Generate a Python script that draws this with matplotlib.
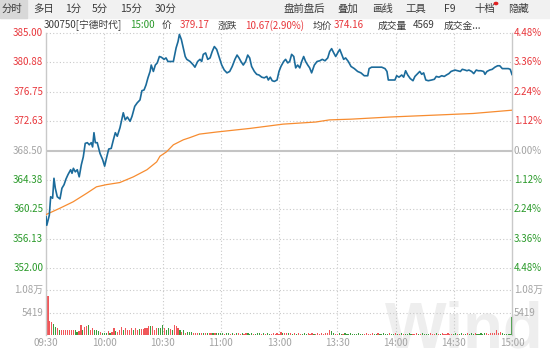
import numpy as np
import matplotlib
matplotlib.use("Agg")
import matplotlib.pyplot as plt
from matplotlib.patches import Rectangle

plt.rcParams["font.family"] = ["Noto Sans CJK SC", "DejaVu Sans"]

PREV_CLOSE = 368.50
P_LO, P_HI = 352.00, 385.00
VOL_STEP = 5419

price_labels = ["385.00", "380.88", "376.75", "372.63", "368.50", "364.38",
                "360.25", "356.13"]
pct_labels = ["4.48%", "3.36%", "2.24%", "1.12%", "0.00%", "1.12%", "2.24%",
              "3.36%"]

# minute index from 09:30 (0..240, 120 = 11:30/13:00)
price_t = [0, 0.4, 1.7, 2.4, 3.4, 4.1, 4.8, 5.8, 7.2, 8.2, 9.3, 10.3, 11.3, 12.7,
           13.4, 14.1, 15.1, 16.1, 17.1, 18.2, 19.2, 20.2, 21.3, 22.3, 23.3, 24.0,
           24.7, 25.4, 26.4, 27.8, 29.2, 30.2, 31.3, 32.3, 33.6, 34.7, 35.7, 36.7,
           38.1, 39.8, 40.8, 41.9, 43.3, 44.3, 45.7, 47.0, 48.4, 49.4, 50.5, 51.5,
           52.5, 53.6, 54.2, 55.3, 56.3, 57.3, 58.4, 59.4, 60.8, 61.8, 62.8, 64.2,
           65.6, 67.0, 68.0, 68.7, 69.7, 70.7, 71.7, 72.5, 74.2, 75.9, 76.7, 78.1,
           79.3, 80.2, 81.0, 82.2, 83.3, 84.5, 85.6, 86.7, 87.9, 89.1, 90.5, 91.8,
           93.2, 94.6, 95.9, 97.3, 98.4, 99.4, 100.4, 101.6, 102.8, 103.9, 104.9,
           105.9, 107.3, 108.5, 109.7, 111.1, 112.4, 113.7, 114.5, 115.5, 116.5,
           117.6, 119.0, 120.0, 121.0, 122.4, 123.4, 124.5, 125.5, 126.5, 127.6,
           128.6, 129.6, 130.7, 131.7, 132.7, 133.7, 134.8, 135.8, 136.8, 138.2,
           139.6, 141.0, 142.3, 143.7, 145.1, 146.1, 147.1, 148.2, 149.2, 150.2,
           151.3, 152.3, 153.3, 154.3, 155.7, 157.1, 158.8, 160.5, 162.2, 163.9,
           165.7, 166.4, 167.7, 170.3, 172.9, 174.6, 175.6, 176.3, 178.0, 179.7,
           180.6, 181.8, 183.2, 184.2, 185.2, 186.3, 187.6, 189.0, 190.0, 191.4,
           192.5, 193.5, 194.5, 195.6, 196.9, 198.6, 200.0, 201.0, 202.4, 203.8,
           205.1, 206.2, 207.5, 208.6, 209.6, 210.6, 212.0, 213.4, 214.4, 215.8,
           216.8, 217.8, 219.2, 220.3, 221.6, 222.6, 224.0, 225.4, 226.1, 227.1,
           228.5, 229.8, 231.2, 232.6, 233.7, 235.0, 236.5, 238.1, 239.1, 240.0]
price_v = [359.2, 358.0, 359.4, 362.0, 361.8, 364.6, 363.2, 362.0, 361.7, 363.2,
           363.7, 364.5, 365.1, 365.8, 365.3, 366.0, 365.5, 365.8, 364.8, 366.5,
           367.6, 369.5, 369.6, 369.3, 369.6, 369.0, 371.0, 369.6, 369.6, 368.1,
           367.2, 366.3, 367.6, 368.7, 368.8, 370.0, 371.0, 370.5, 371.7, 373.8,
           372.8, 373.2, 372.6, 373.3, 374.7, 375.2, 375.6, 376.9, 377.0, 377.7,
           378.7, 379.6, 380.5, 379.6, 380.5, 380.8, 381.7, 381.6, 381.3, 381.5,
           381.0, 381.0, 381.0, 382.9, 383.8, 384.8, 384.1, 382.9, 381.7, 381.3,
           381.0, 380.5, 380.2, 381.0, 381.3, 381.0, 382.0, 382.2, 381.3, 381.5,
           382.4, 383.1, 382.7, 381.7, 380.5, 379.8, 379.4, 379.6, 380.3, 381.3,
           381.9, 381.5, 381.0, 380.5, 381.0, 381.9, 381.5, 380.3, 379.6, 379.2,
           379.1, 378.8, 378.7, 378.9, 378.4, 378.8, 378.3, 378.2, 378.4, 379.6,
           380.3, 381.0, 381.3, 380.8, 381.0, 382.0, 381.7, 380.1, 380.5, 380.1,
           381.0, 381.7, 381.0, 380.5, 380.1, 379.4, 380.5, 381.0, 381.1, 381.3,
           381.1, 381.5, 382.4, 382.8, 382.2, 381.7, 382.2, 382.7, 382.0, 381.3,
           381.5, 381.0, 380.3, 380.0, 379.6, 379.4, 379.0, 379.0, 380.0, 380.2,
           380.2, 380.2, 380.0, 379.6, 378.4, 378.4, 378.4, 379.0, 378.8, 379.1,
           378.8, 379.7, 379.1, 378.6, 378.3, 378.9, 379.3, 379.6, 379.2, 379.4,
           378.4, 378.3, 378.4, 378.5, 378.9, 378.8, 379.0, 378.9, 379.1, 379.3,
           379.6, 379.7, 379.8, 379.7, 379.6, 379.9, 379.8, 379.7, 379.8, 379.6,
           379.3, 379.8, 379.7, 379.7, 379.6, 379.2, 379.6, 379.8, 379.9, 380.2,
           380.4, 380.4, 380.0, 380.0, 380.0, 379.9, 379.17]

avg_t = [0, 7.2, 14, 21, 26, 31, 38, 45, 52, 57, 58.7, 62, 65.6, 70.7, 74, 79,
         88, 105, 122, 139, 146, 157, 177, 203, 220, 240]
avg_v = [359.5, 360.4, 361.3, 362.5, 363.4, 363.7, 364.0, 364.8, 365.8, 366.9,
         367.7, 368.3, 369.3, 370.0, 370.3, 370.8, 371.1, 371.6, 372.2, 372.5,
         372.8, 372.9, 373.2, 373.5, 373.7, 374.16]

volume = [16200, 9400, 3500, 3100, 2700, 1900, 1600, 1300, 1300, 1200,
          1300, 1300, 1200, 1300, 1300, 1300, 800, 1000, 2400, 1300,
          2000, 2100, 2500, 1100, 1700, 1100, 1100, 900, 800, 600,
          600, 500, 1000, 600, 800, 1700, 1000, 800, 1300, 2000,
          1300, 1600, 1200, 1100, 1600, 1100, 1600, 1300, 1450, 1450,
          1500, 1800, 1600, 2200, 2200, 2200, 1300, 1600, 1600, 1800,
          2450, 1600, 1300, 1800, 1450, 1300, 2350, 2100, 1700, 1100,
          800, 1100, 600, 800, 700, 700, 600, 500, 600, 500,
          600, 500, 400, 600, 500, 400, 500, 600, 500, 400,
          500, 400, 300, 400, 500, 300, 400, 300, 500, 400,
          300, 400, 300, 400, 500, 300, 400, 300, 300, 400,
          500, 300, 400, 300, 400, 300, 300, 400, 300, 400,
          300, 700, 600, 500, 400, 400, 500, 300, 400, 300,
          400, 300, 300, 400, 300, 400, 300, 500, 300, 300,
          400, 300, 400, 300, 500, 600, 1300, 1000, 400, 300,
          300, 400, 300, 300, 400, 300, 300, 400, 300, 300,
          300, 400, 300, 300, 300, 400, 300, 300, 400, 300,
          300, 400, 300, 300, 400, 300, 300, 400, 300, 300,
          400, 300, 300, 400, 300, 300, 300, 400, 300, 300,
          300, 400, 300, 300, 400, 300, 300, 300, 400, 300,
          300, 400, 300, 300, 400, 300, 300, 400, 300, 300,
          300, 400, 300, 300, 400, 300, 300, 400, 300, 400,
          300, 400, 300, 300, 400, 300, 500, 400, 300, 600,
          400, 500, 1300, 600, 800, 400, 300, 300, 200, 200,
          4270]
# R = up minute, G = down minute
vol_dir = ("GRRRGGRGRR" "RRRRRGGRRG" "RRGRRGGGRG" "GGRGRRGRRR" "GRRRRGRRGR"
           "RRRRGRRRGG" "GRGGRGRRRG" "RGRGGGRRRG" "RGRGRRGRGG" "GGRGGRGRGR"
           "RGRRGGGRGG" "GRGRGGRRRR" "RRGRRGRGRG" "RRGGGRRRGR" "RRRRRRRGGR"
           "RGGRGGGGGG" "GGGGRRRRRG" "GRGGGGGRGG" "RGRGRGGGGR" "RRGRGGGGRR"
           "RGRGRRRRRR" "GGRGGRGRGG" "GRGGGGGRRR" "RRRRRGGGGG" "G")

time_ticks = [0, 30, 60, 90, 120, 150, 180, 210, 240]
time_labels = ["09:30", "10:00", "10:30", "11:00", "13:00", "13:30", "14:00",
               "14:30", "15:00"]

RED = "#e8363b"
GREEN = "#2a9a2a"
GRAY = "#a3a3a3"
DARK = "#3a3a3a"
BLUE = "#1b6b9b"
ORANGE = "#f78c30"
GRID = "#c9c9c9"

W, H = 550, 352
fig = plt.figure(figsize=(W / 100, H / 100), dpi=100, facecolor="white")


def fx(px):
    return px / W


def fy(py):
    return 1 - py / H


# toolbar
fig.patches.append(Rectangle((0, fy(18)), 1, 18 / H, transform=fig.transFigure,
                             color="#f1f1f1", zorder=-2))
fig.patches.append(Rectangle((0, fy(18)), fx(27), 18 / H, transform=fig.transFigure,
                             color="#d8d8d8", zorder=-2))
tabs = [("分时", 2), ("多日", 33), ("1分", 65), ("5分", 92), ("15分", 120),
        ("30分", 155), ("盘前盘后", 283), ("叠加", 337), ("画线", 372),
        ("工具", 405), ("F9", 444), ("十档", 474), ("隐藏", 508)]
for s, x in tabs:
    fig.text(fx(x), fy(9), s, fontsize=7.5, color=DARK, va="center", ha="left")
fig.patches.append(plt.Circle((fx(496), fy(3.5)), 1.7 / W, transform=fig.transFigure,
                              color="#e02020"))

# quote line
quote = [("300750[宁德时代]", 44, DARK), ("15:00", 130, GREEN), ("价", 162, DARK),
         ("379.17", 180, RED), ("涨跌", 218, DARK), ("10.67(2.90%)", 245, RED),
         ("均价", 313, DARK), ("374.16", 334, RED), ("成交量", 378, DARK),
         ("4569", 413, DARK), ("成交金...", 444, DARK)]
for s, x, c in quote:
    fig.text(fx(x), fy(25.5), s, fontsize=7, color=c, va="center", ha="left")

L, R = 46, 512
axp = fig.add_axes([fx(L), fy(268), (R - L) / W, (268 - 33) / H])
axv = fig.add_axes([fx(L), fy(335), (R - L) / W, (335 - 268) / H])
for ax in (axp, axv):
    ax.set_facecolor("none")
    ax.set_xlim(0, 240)
    ax.set_xticks([])
    ax.set_yticks([])
    for sp in ("top", "bottom"):
        ax.spines[sp].set_visible(False)
    for sp in ("left", "right"):
        ax.spines[sp].set_color(GRID)
        ax.spines[sp].set_linewidth(1.0)
    for t in time_ticks[1:-1]:
        ax.axvline(t, color=GRID, lw=0.8, ls=(0, (1, 2)), zorder=0)

# price panel
step = (P_HI - P_LO) / 8
levels = [P_HI - i * step for i in range(8)]
axp.set_ylim(P_LO, P_HI)
for i, lv in enumerate(levels):
    if i == 4:
        axp.axhline(lv, color="#c4c4c4", lw=1.5, zorder=1)
    else:
        axp.axhline(lv, color=GRID, lw=0.8, ls=(0, (1, 2)), zorder=0, clip_on=False)
    c = RED if i < 4 else (GRAY if i == 4 else GREEN)
    axp.text(-0.006, lv, price_labels[i], transform=axp.get_yaxis_transform(),
             ha="right", va="center", fontsize=7, color=c)
    axp.text(1.004, lv, pct_labels[i], transform=axp.get_yaxis_transform(),
             ha="left", va="center", fontsize=7, color=c)

axp.plot(avg_t, avg_v, color=ORANGE, lw=0.9, zorder=3)
axp.plot(price_t, price_v, color=BLUE, lw=1.2, zorder=4)

# volume panel
vmax = 3 * VOL_STEP
axv.set_ylim(0, vmax)
axv.axhline(vmax, color=GRID, lw=0.8, ls=(0, (1, 2)), zorder=0)
for k, lab in [(2, "1.08万"), (1, f"{VOL_STEP}")]:
    axv.axhline(k * VOL_STEP, color=GRID, lw=0.8, ls=(0, (1, 2)), zorder=0)
    axv.text(-0.006, k * VOL_STEP, lab, transform=axv.get_yaxis_transform(),
             ha="right", va="center", fontsize=7, color=GRAY)
    axv.text(1.004, k * VOL_STEP, lab, transform=axv.get_yaxis_transform(),
             ha="left", va="center", fontsize=7, color=GRAY)
axv.text(-0.006, vmax, f"{P_LO:.2f}", transform=axv.get_yaxis_transform(),
         ha="right", va="center", fontsize=7, color=GREEN)
axv.text(1.004, vmax, "4.48%", transform=axv.get_yaxis_transform(),
         ha="left", va="center", fontsize=7, color=GREEN)

mins = np.arange(len(volume))
cols = ["#f0575a" if d == "R" else "#3d9b3d" for d in vol_dir]
axv.bar(mins, volume, width=0.6, color=cols, zorder=2)

for t, lab in zip(time_ticks, time_labels):
    axv.text(t, -0.045, lab, transform=axv.get_xaxis_transform(), ha="center",
             va="top", fontsize=7, color=GRAY)

# watermark
fig.text(fx(385), fy(347), "Wind", fontsize=47, fontweight="bold",
         family="Liberation Sans", color="#eeeeee", ha="left", va="baseline",
         zorder=-1)

fig.savefig("out.png", dpi=100, facecolor="white")
